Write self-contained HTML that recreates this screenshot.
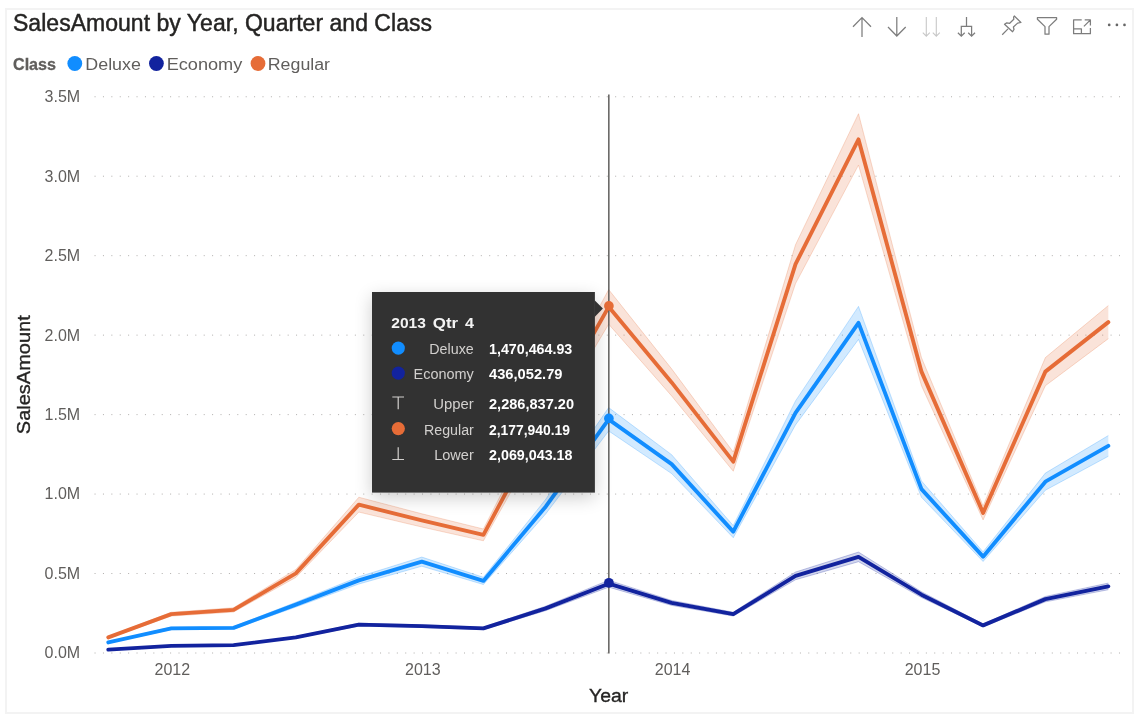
<!DOCTYPE html>
<html><head><meta charset="utf-8"><title>SalesAmount by Year, Quarter and Class</title>
<style>
html,body{margin:0;padding:0;background:#fff;}
body{width:1143px;height:723px;position:relative;overflow:hidden;font-family:"Liberation Sans",sans-serif;}
svg text{font-family:"Liberation Sans",sans-serif;}
</style></head><body>
<svg width="1143" height="723" viewBox="0 0 1143 723" style="position:absolute;left:0;top:0;display:block">
<rect x="6" y="9" width="1127" height="704" fill="#fff" stroke="#f3f3f3" stroke-width="2"/>
<text class="din" x="13" y="30.8" font-size="23" fill="#252423" stroke="#252423" stroke-width="0.45" textLength="419" lengthAdjust="spacing">SalesAmount by Year, Quarter and Class</text>
<text x="13" y="70.3" font-size="16" font-weight="bold" fill="#605E5C" stroke="#605E5C" stroke-width="0.3" textLength="43" lengthAdjust="spacingAndGlyphs">Class</text>
<circle cx="74.8" cy="63.5" r="7.4" fill="#118DFF"/>
<text x="85.3" y="70.3" font-size="16" fill="#605E5C" textLength="55.6" lengthAdjust="spacingAndGlyphs">Deluxe</text>
<circle cx="156.4" cy="63.5" r="7.4" fill="#12239E"/>
<text x="166.7" y="70.3" font-size="16" fill="#605E5C" textLength="75.6" lengthAdjust="spacingAndGlyphs">Economy</text>
<circle cx="258" cy="63.5" r="7.4" fill="#E66C37"/>
<text x="267.8" y="70.3" font-size="16" fill="#605E5C" textLength="62.2" lengthAdjust="spacingAndGlyphs">Regular</text>
<line x1="94.55" x2="1120.2" y1="653.0" y2="653.0" stroke="#b0aeac" stroke-width="1" stroke-dasharray="1 7.397"/>
<text x="80.2" y="658" font-size="16" fill="#605E5C" text-anchor="end">0.0M</text>
<line x1="94.55" x2="1120.2" y1="573.53" y2="573.53" stroke="#b0aeac" stroke-width="1" stroke-dasharray="1 7.397"/>
<text x="80.2" y="579" font-size="16" fill="#605E5C" text-anchor="end">0.5M</text>
<line x1="94.55" x2="1120.2" y1="494.07" y2="494.07" stroke="#b0aeac" stroke-width="1" stroke-dasharray="1 7.397"/>
<text x="80.2" y="499" font-size="16" fill="#605E5C" text-anchor="end">1.0M</text>
<line x1="94.55" x2="1120.2" y1="414.61" y2="414.61" stroke="#b0aeac" stroke-width="1" stroke-dasharray="1 7.397"/>
<text x="80.2" y="420" font-size="16" fill="#605E5C" text-anchor="end">1.5M</text>
<line x1="94.55" x2="1120.2" y1="335.14" y2="335.14" stroke="#b0aeac" stroke-width="1" stroke-dasharray="1 7.397"/>
<text x="80.2" y="341" font-size="16" fill="#605E5C" text-anchor="end">2.0M</text>
<line x1="94.55" x2="1120.2" y1="255.67" y2="255.67" stroke="#b0aeac" stroke-width="1" stroke-dasharray="1 7.397"/>
<text x="80.2" y="261" font-size="16" fill="#605E5C" text-anchor="end">2.5M</text>
<line x1="94.55" x2="1120.2" y1="176.21" y2="176.21" stroke="#b0aeac" stroke-width="1" stroke-dasharray="1 7.397"/>
<text x="80.2" y="182" font-size="16" fill="#605E5C" text-anchor="end">3.0M</text>
<line x1="94.55" x2="1120.2" y1="96.75" y2="96.75" stroke="#b0aeac" stroke-width="1" stroke-dasharray="1 7.397"/>
<text x="80.2" y="102" font-size="16" fill="#605E5C" text-anchor="end">3.5M</text>
<text x="172.3" y="675" font-size="16" fill="#605E5C" text-anchor="middle">2012</text>
<text x="422.8" y="675" font-size="16" fill="#605E5C" text-anchor="middle">2013</text>
<text x="672.6" y="675" font-size="16" fill="#605E5C" text-anchor="middle">2014</text>
<text x="922.5" y="675" font-size="16" fill="#605E5C" text-anchor="middle">2015</text>
<text class="din" x="589" y="701.6" font-size="19.2" fill="#252423" stroke="#252423" stroke-width="0.35" textLength="39.2" lengthAdjust="spacingAndGlyphs">Year</text>
<text class="din" transform="translate(29.9,434.2) rotate(-90)" font-size="19.2" fill="#252423" stroke="#252423" stroke-width="0.35" textLength="119" lengthAdjust="spacingAndGlyphs">SalesAmount</text>
<polygon points="108.30,649.48 171.27,645.54 233.56,644.76 295.85,636.62 358.83,623.23 421.80,624.81 483.40,627.17 545.69,606.17 608.67,580.23 671.64,600.39 733.25,612.21 795.53,572.04 858.51,552.10 921.48,591.73 983.09,624.02 1045.38,596.46 1108.35,583.07 1108.35,589.73 1045.38,601.84 983.09,626.78 921.48,597.57 858.51,561.70 795.53,579.75 733.25,616.09 671.64,605.40 608.67,587.16 545.69,610.63 483.40,629.63 421.80,627.49 358.83,626.07 295.85,638.18 233.56,645.54 171.27,646.25 108.30,649.82" fill="#12239E" fill-opacity="0.19"/>
<polyline points="108.30,649.48 171.27,645.54 233.56,644.76 295.85,636.62 358.83,623.23 421.80,624.81 483.40,627.17 545.69,606.17 608.67,580.23 671.64,600.39 733.25,612.21 795.53,572.04 858.51,552.10 921.48,591.73 983.09,624.02 1045.38,596.46 1108.35,583.07" fill="none" stroke="#12239E" stroke-opacity="0.24" stroke-width="1"/>
<polyline points="108.30,649.82 171.27,646.25 233.56,645.54 295.85,638.18 358.83,626.07 421.80,627.49 483.40,629.63 545.69,610.63 608.67,587.16 671.64,605.40 733.25,616.09 795.53,579.75 858.51,561.70 921.48,597.57 983.09,626.78 1045.38,601.84 1108.35,589.73" fill="none" stroke="#12239E" stroke-opacity="0.24" stroke-width="1"/>

<polygon points="108.30,641.87 171.27,627.17 233.56,626.64 295.85,602.23 358.83,576.77 421.80,557.08 483.40,577.29 545.69,499.33 608.67,407.61 671.64,454.71 733.25,525.58 795.53,400.89 858.51,306.39 921.48,480.96 983.09,551.83 1045.38,473.08 1108.35,435.54 1108.35,456.25 1045.38,490.22 983.09,561.47 921.48,497.34 858.51,339.40 795.53,424.90 733.25,537.72 671.64,473.59 608.67,430.98 545.69,513.97 483.40,584.50 421.80,566.22 358.83,584.03 295.85,607.07 233.56,629.15 171.27,629.63 108.30,642.93" fill="#118DFF" fill-opacity="0.19"/>
<polyline points="108.30,641.87 171.27,627.17 233.56,626.64 295.85,602.23 358.83,576.77 421.80,557.08 483.40,577.29 545.69,499.33 608.67,407.61 671.64,454.71 733.25,525.58 795.53,400.89 858.51,306.39 921.48,480.96 983.09,551.83 1045.38,473.08 1108.35,435.54" fill="none" stroke="#118DFF" stroke-opacity="0.24" stroke-width="1"/>
<polyline points="108.30,642.93 171.27,629.63 233.56,629.15 295.85,607.07 358.83,584.03 421.80,566.22 483.40,584.50 545.69,513.97 608.67,430.98 671.64,473.59 733.25,537.72 795.53,424.90 858.51,339.40 921.48,497.34 983.09,561.47 1045.38,490.22 1108.35,456.25" fill="none" stroke="#118DFF" stroke-opacity="0.24" stroke-width="1"/>

<polygon points="108.30,636.62 171.27,612.21 233.56,607.75 295.85,569.42 358.83,497.23 421.80,513.77 483.40,529.00 545.69,406.67 608.67,289.55 671.64,368.87 733.25,452.08 795.53,244.71 858.51,113.72 921.48,357.58 983.09,505.89 1045.38,357.58 1108.35,305.55 1108.35,338.64 1045.38,385.72 983.09,519.90 921.48,385.72 858.51,165.08 795.53,283.59 733.25,471.22 671.64,395.93 608.67,324.17 545.69,430.13 483.40,540.80 421.80,527.03 358.83,512.07 295.85,577.38 233.56,612.05 171.27,616.09 108.30,638.18" fill="#E66C37" fill-opacity="0.19"/>
<polyline points="108.30,636.62 171.27,612.21 233.56,607.75 295.85,569.42 358.83,497.23 421.80,513.77 483.40,529.00 545.69,406.67 608.67,289.55 671.64,368.87 733.25,452.08 795.53,244.71 858.51,113.72 921.48,357.58 983.09,505.89 1045.38,357.58 1108.35,305.55" fill="none" stroke="#E66C37" stroke-opacity="0.24" stroke-width="1"/>
<polyline points="108.30,638.18 171.27,616.09 233.56,612.05 295.85,577.38 358.83,512.07 421.80,527.03 483.40,540.80 545.69,430.13 608.67,324.17 671.64,395.93 733.25,471.22 795.53,283.59 858.51,165.08 921.48,385.72 983.09,519.90 1045.38,385.72 1108.35,338.64" fill="none" stroke="#E66C37" stroke-opacity="0.24" stroke-width="1"/>

<polyline points="108.30,649.65 171.27,645.90 233.56,645.15 295.85,637.40 358.83,624.65 421.80,626.15 483.40,628.40 545.69,608.40 608.67,583.70 671.64,602.90 733.25,614.15 795.53,575.90 858.51,556.90 921.48,594.65 983.09,625.40 1045.38,599.15 1108.35,586.40" fill="none" stroke="#12239E" stroke-width="3.9" stroke-linecap="round" stroke-linejoin="round"/>

<polyline points="108.30,642.40 171.27,628.40 233.56,627.90 295.85,604.65 358.83,580.40 421.80,561.65 483.40,580.90 545.69,506.65 608.67,419.30 671.64,464.15 733.25,531.65 795.53,412.90 858.51,322.90 921.48,489.15 983.09,556.65 1045.38,481.65 1108.35,445.90" fill="none" stroke="#118DFF" stroke-width="3.9" stroke-linecap="round" stroke-linejoin="round"/>

<polyline points="108.30,637.40 171.27,614.15 233.56,609.90 295.85,573.40 358.83,504.65 421.80,520.40 483.40,534.90 545.69,418.40 608.67,306.86 671.64,382.40 733.25,461.65 795.53,264.15 858.51,139.40 921.48,371.65 983.09,512.90 1045.38,371.65 1108.35,322.10" fill="none" stroke="#E66C37" stroke-width="3.9" stroke-linecap="round" stroke-linejoin="round"/>

<line x1="608.85" x2="608.85" y1="94.5" y2="653.4" stroke="#484644" stroke-width="1.3"/>
<circle cx="608.9" cy="582.80" r="4.85" fill="#12239E"/>
<circle cx="608.9" cy="418.40" r="4.85" fill="#118DFF"/>
<circle cx="608.9" cy="305.96" r="4.85" fill="#E66C37"/>
<g fill="none" stroke="#7d7d7d" stroke-width="1.25">
<path d="M862 37V17.6M853 26.8L862 17.6L871 26.8"/>
<path d="M896.8 16.9V36M888 27L896.8 36L905.7 27"/>
<path d="M966.5 16.9V26.4M961.3 36V26.4H971.6V36M957.9 32.8L961.3 36.2L964.7 32.8M968.2 32.8L971.6 36.2L975 32.8"/>
</g>
<g fill="none" stroke="#c8c8c8" stroke-width="1.1"><path d="M926.3 16.9V36M922.8 32.6L926.3 36.1L929.8 32.6M936.3 16.9V36M932.8 32.6L936.3 36.1L939.8 32.6"/></g>
<g fill="none" stroke="#7d7d7d" stroke-width="1.25" stroke-linejoin="round">
<path d="M1002.2 34.7L1008 28.9M1014.3 16L1020.9 22.5L1017.6 23.1L1013.4 27L1014 29.5L1012.6 31.8L1004.5 24.3L1006.8 22.9L1009.7 23.3L1013.8 19.3L1013.6 17Z"/>
<path d="M1037.4 17.7H1056.6V19.2L1049 26.6V34.2H1045V26.6L1037.4 19.2Z"/>
<path d="M1081.7 19.9H1073.6V33.7H1090.4V28.1M1073.6 28.8H1081.4V33.7M1083.9 26.4L1090.4 19.9M1084.7 19.9H1090.4V25.6"/>
</g>
<circle cx="1109.2" cy="24.9" r="1.35" fill="#666"/>
<circle cx="1116.9" cy="24.9" r="1.35" fill="#666"/>
<circle cx="1124.5" cy="24.9" r="1.35" fill="#666"/>
<defs><filter id="sh" x="-20%" y="-20%" width="140%" height="150%"><feGaussianBlur in="SourceAlpha" stdDeviation="9"/><feOffset dy="5"/><feComponentTransfer><feFuncA type="linear" slope="0.2"/></feComponentTransfer><feMerge><feMergeNode/><feMergeNode in="SourceGraphic"/></feMerge></filter></defs>
<g filter="url(#sh)"><rect x="372" y="292" width="222.9" height="200.6" fill="#333"/></g>
<path d="M594.4 300L602.9 308.6L594.4 317.2Z" fill="#333"/>
<text y="328" font-size="15.55" font-weight="bold" fill="#f3f3f3"><tspan x="391.3" textLength="34.6" lengthAdjust="spacingAndGlyphs">2013</tspan><tspan> </tspan><tspan x="432.8" textLength="25.4" lengthAdjust="spacingAndGlyphs">Qtr</tspan><tspan> </tspan><tspan x="464.9" textLength="9" lengthAdjust="spacingAndGlyphs">4</tspan></text>
<circle cx="398.3" cy="348.1" r="6.6" fill="#118DFF"/>
<text x="473.8" y="354" font-size="15.2" fill="#d2d0ce" text-anchor="end" textLength="44.5" lengthAdjust="spacingAndGlyphs">Deluxe</text>
<text x="489" y="354" font-size="15" font-weight="bold" fill="#fff" textLength="83.3" lengthAdjust="spacingAndGlyphs">1,470,464.93</text>
<circle cx="398.3" cy="373.1" r="6.6" fill="#12239E"/>
<text x="473.8" y="379" font-size="15.2" fill="#d2d0ce" text-anchor="end" textLength="60.3" lengthAdjust="spacingAndGlyphs">Economy</text>
<text x="489" y="379" font-size="15" font-weight="bold" fill="#fff" textLength="73.5" lengthAdjust="spacingAndGlyphs">436,052.79</text>
<text x="473.8" y="409" font-size="15.2" fill="#d2d0ce" text-anchor="end" textLength="40.5" lengthAdjust="spacingAndGlyphs">Upper</text>
<text x="489" y="409" font-size="15" font-weight="bold" fill="#fff" textLength="85" lengthAdjust="spacingAndGlyphs">2,286,837.20</text>
<circle cx="398.3" cy="428.6" r="6.6" fill="#E66C37"/>
<text x="473.8" y="434.5" font-size="15.2" fill="#d2d0ce" text-anchor="end" textLength="49.8" lengthAdjust="spacingAndGlyphs">Regular</text>
<text x="489" y="434.5" font-size="15" font-weight="bold" fill="#fff" textLength="81" lengthAdjust="spacingAndGlyphs">2,177,940.19</text>
<text x="473.8" y="459.5" font-size="15.2" fill="#d2d0ce" text-anchor="end" textLength="39.6" lengthAdjust="spacingAndGlyphs">Lower</text>
<text x="489" y="459.5" font-size="15" font-weight="bold" fill="#fff" textLength="83.5" lengthAdjust="spacingAndGlyphs">2,069,043.18</text>
<path d="M392.3 397H404M398.2 397V409.3" fill="none" stroke="#d2d0ce" stroke-width="1.2"/>
<path d="M392.3 459.5H404M398.2 447.3V459.5" fill="none" stroke="#d2d0ce" stroke-width="1.2"/>
</svg>
</body></html>
